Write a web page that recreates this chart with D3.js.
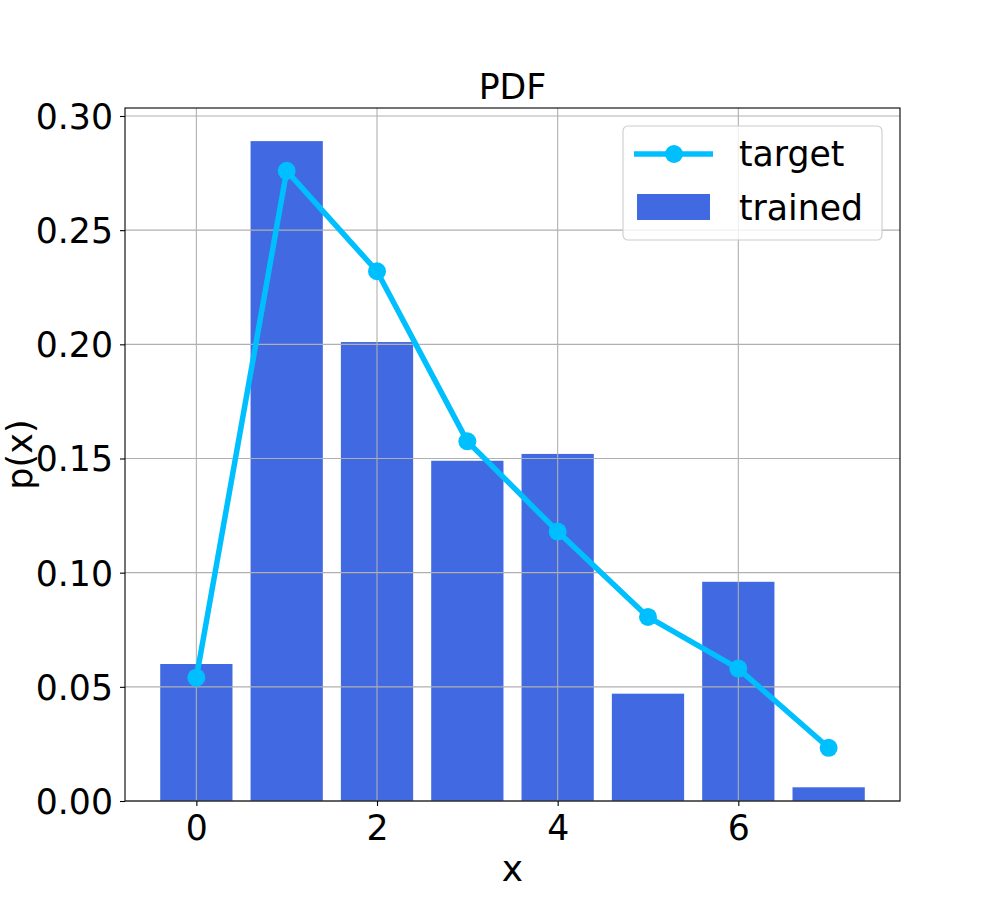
<!DOCTYPE html>
<html>
<head>
<meta charset="utf-8">
<script src="https://cdn.jsdelivr.net/npm/d3@7"></script>
<style>
  html, body { margin: 0; padding: 0; background: #fff; }
  svg { display: block; font-family: "DejaVu Sans", sans-serif; }
</style>
</head>
<body>
<svg id="chart" width="1000" height="900"></svg>
<script>
const categories = [0, 1, 2, 3, 4, 5, 6, 7];
const trainedValues = [0.060, 0.289, 0.201, 0.149, 0.152, 0.047, 0.096, 0.006];
const targetValues = [0.054, 0.276, 0.232, 0.1575, 0.118, 0.0806, 0.058, 0.0233];
const xTicks = [0, 2, 4, 6];
const yTicks = [0, 0.05, 0.10, 0.15, 0.20, 0.25, 0.30];
const seriesNames = ["target", "trained"];
const titleText = "PDF";
const xLabel = "x";
const yLabel = "p(x)";

const svg = d3.select("#chart");
const L = 125, R = 900, T = 108, B = 801;
const barWidth = 0.8;

const x = d3.scaleLinear().domain([-0.79, 7.79]).range([L, R]);
const y = d3.scaleLinear().domain([0, 0.3035]).range([B, T]);

const blue = "#4169E1", sky = "#00BFFF", grid = "#b0b0b0";

// bars
svg.append("g").selectAll("rect").data(categories).join("rect")
  .attr("x", (d) => x(d - barWidth / 2))
  .attr("width", (d) => x(d + barWidth / 2) - x(d - barWidth / 2))
  .attr("y", (d, i) => y(trainedValues[i]))
  .attr("height", (d, i) => y(0) - y(trainedValues[i]))
  .attr("fill", blue);

// grid
const gg = svg.append("g");
gg.selectAll("line.gx").data(xTicks).join("line")
  .attr("x1", (d) => x(d)).attr("x2", (d) => x(d))
  .attr("y1", T).attr("y2", B)
  .attr("stroke", grid).attr("stroke-width", 1.1);
gg.selectAll("line.gy").data(yTicks).join("line")
  .attr("x1", L).attr("x2", R)
  .attr("y1", (d) => y(d)).attr("y2", (d) => y(d))
  .attr("stroke", grid).attr("stroke-width", 1.1);

// target line
const line = d3.line().x((d) => x(d)).y((d, i) => y(targetValues[i]));
svg.append("path").datum(categories)
  .attr("d", line).attr("fill", "none")
  .attr("stroke", sky).attr("stroke-width", 5.5).attr("stroke-linejoin", "round");
svg.append("g").selectAll("circle").data(categories).join("circle")
  .attr("cx", (d) => x(d)).attr("cy", (d, i) => y(targetValues[i]))
  .attr("r", 9).attr("fill", sky);

// axes
const xAxis = d3.axisBottom(x).tickValues(xTicks).tickFormat(d3.format("d")).tickSize(5).tickPadding(8);
const yAxis = d3.axisLeft(y).tickValues(yTicks).tickFormat(d3.format(".2f")).tickSize(5).tickPadding(7);
const gx = svg.append("g").attr("transform", `translate(0,${B})`).call(xAxis);
const gy = svg.append("g").attr("transform", `translate(${L},0)`).call(yAxis);
[gx, gy].forEach((g) => {
  g.select(".domain").remove();
  g.selectAll(".tick line").attr("stroke", "#000").attr("stroke-width", 1.1);
  g.selectAll(".tick text").attr("font-size", 34.7).attr("fill", "#000")
    .attr("font-family", "DejaVu Sans");
});
gy.selectAll(".tick text").attr("dy", "0.36em");
gx.selectAll(".tick text").attr("dy", "0.76em");

// frame
svg.append("rect").attr("x", L).attr("y", T).attr("width", R - L).attr("height", B - T)
  .attr("fill", "none").attr("stroke", "#000").attr("stroke-width", 1.1);

// title & labels
svg.append("text").attr("x", (L + R) / 2).attr("y", 99).attr("text-anchor", "middle")
  .attr("font-size", 34.7).text(titleText);
svg.append("text").attr("x", (L + R) / 2).attr("y", 881).attr("text-anchor", "middle")
  .attr("font-size", 36).text(xLabel);
svg.append("text").attr("transform", `translate(32,${(T + B) / 2}) rotate(-90)`)
  .attr("text-anchor", "middle").attr("font-size", 35).text(yLabel);

// legend
const lg = svg.append("g");
lg.append("rect").attr("x", 623).attr("y", 126).attr("width", 259).attr("height", 114)
  .attr("rx", 5).attr("fill", "#fff").attr("fill-opacity", 0.8)
  .attr("stroke", "#cccccc").attr("stroke-width", 1.1);
lg.append("line").attr("x1", 634).attr("x2", 713).attr("y1", 154).attr("y2", 154)
  .attr("stroke", sky).attr("stroke-width", 5.5);
lg.append("circle").attr("cx", 674).attr("cy", 154).attr("r", 9).attr("fill", sky);
lg.append("rect").attr("x", 637).attr("y", 194).attr("width", 73).attr("height", 26).attr("fill", blue);
lg.append("text").attr("x", 739).attr("y", 166).attr("font-size", 34.7).text(seriesNames[0]);
lg.append("text").attr("x", 739).attr("y", 220).attr("font-size", 34.7).text(seriesNames[1]);
</script>
</body>
</html>
